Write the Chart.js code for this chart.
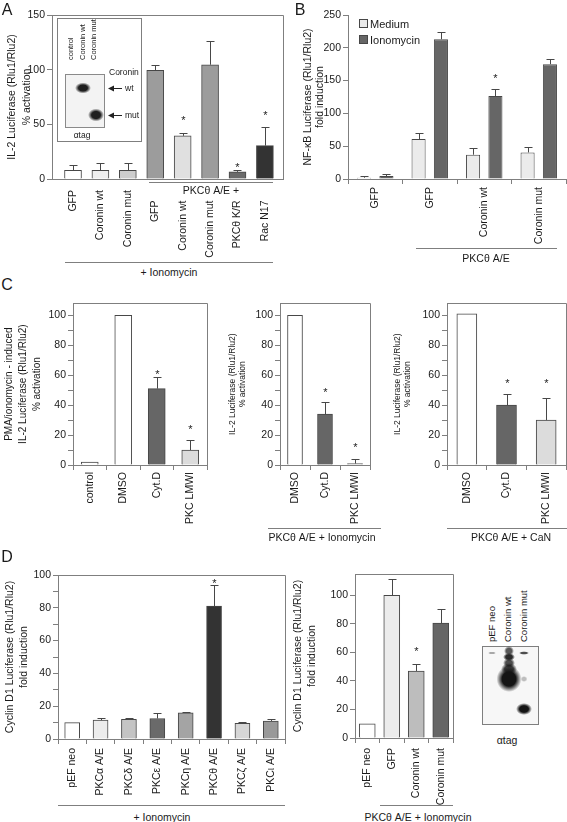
<!DOCTYPE html>
<html>
<head>
<meta charset="utf-8">
<script src="https://cdn.jsdelivr.net/npm/chart.js@4.4.0/dist/chart.umd.min.js"></script>
<style>
  body { margin: 0; background: #fff; }
  #page { position: relative; width: 567px; height: 822px; overflow: hidden; font-family: "Liberation Sans", Arial, sans-serif; color: #1a1a1a; }
  #page canvas { position: absolute; }
  .t { position: absolute; white-space: nowrap; line-height: 1; }
  .rot { position: absolute; white-space: nowrap; line-height: 1; transform-origin: 0 0; transform: rotate(-90deg); }
  .line { position: absolute; height: 0; border-top: 1px solid #7f7f7f; }
  .box { position: absolute; border: 1px solid #7f7f7f; background: #fff; }
</style>
</head>
<body>
<div id="page"></div>
<script>
// ------------------- Data -------------------
// A: IL-2 luciferase, % activation
const labelsA = ["GFP", "Coronin wt", "Coronin mut", "GFP", "Coronin wt", "Coronin mut", "PKCθ K/R", "Rac N17"];
const valuesA = [8, 8, 8, 99.5, 39.5, 104.5, 6.5, 30.5];
const errorsA = [4.5, 6.5, 6.5, 4.5, 2.5, 22, 2, 17.5];
const starsA = [null, null, null, null, 55, null, 12, 59.5];

// B: NF-kB luciferase, fold induction
const labelsB = ["GFP", "GFP", "Coronin wt", "Coronin mut"];
const seriesB = ["Medium", "Ionomycin"];
const mediumB = [2, 61, 37, 40.5];
const mediumErrB = [2, 9, 9.5, 9];
const ionoB = [4.5, 213, 126.5, 175];
const ionoErrB = [3.5, 10.5, 10, 8];
const starsB = [null, null, 157, null];

// C: three inhibitor panels, % activation
const labelsC1 = ["control", "DMSO", "Cyt.D", "PKC LMWI"];
const valuesC1 = [2, 100, 51, 10];
const errorsC1 = [0, 0, 7.5, 7];
const starsC1 = [null, null, 62, 25];

const labelsC2 = ["DMSO", "Cyt.D", "PKC LMWI"];
const valuesC2 = [100, 34, 1];
const errorsC2 = [0, 8, 3];
const starsC2 = [null, 50, 13];

const labelsC3 = ["DMSO", "Cyt.D", "PKC LMWI"];
const valuesC3 = [101, 40, 30];
const errorsC3 = [0, 7.5, 14.5];
const starsC3 = [null, 56, 56];

// D: Cyclin D1 luciferase, fold induction
const labelsD1 = ["pEF neo", "PKCα A/E", "PKCδ A/E", "PKCε A/E", "PKCη A/E", "PKCθ A/E", "PKCζ A/E", "PKCι A/E"];
const valuesD1 = [10, 11.5, 12, 12.5, 16, 81, 9.5, 11];
const errorsD1 = [0, 1.5, 1, 3.5, 0.5, 13, 1, 1];
const starsD1 = [null, null, null, null, null, 96, null, null];

const labelsD2 = ["pEF neo", "GFP", "Coronin wt", "Coronin mut"];
const valuesD2 = [10, 100, 47, 80.5];
const errorsD2 = [0, 11.5, 5, 10];
const starsD2 = [null, null, 62, null];

// ------------------- Styles -------------------
const axisColor = "#7f7f7f";
const edge = "#474747";
const ink = "#1a1a1a";
const colorsA = ["#ffffff", "#efefef", "#cdcdcd", "#9c9c9c", "#e0e0e0", "#9c9c9c", "#6a6a6a", "#333333"];
const colorsB = ["#ebebeb", "#666666"];
const colorsC1 = ["#ffffff", "#ffffff", "#666666", "#dcdcdc"];
const colorsC = ["#ffffff", "#666666", "#dcdcdc"];
const colorsD1 = ["#ffffff", "#ececec", "#c4c4c4", "#6a6a6a", "#a4a4a4", "#333333", "#d6d6d6", "#999999"];
const colorsD2 = ["#ffffff", "#ececec", "#bdbdbd", "#666666"];

Chart.defaults.font.family = '"Liberation Sans", Arial, sans-serif';
Chart.defaults.color = ink;

const page = document.getElementById("page");

// ------------------- Plugins -------------------
const frame = {
  id: "frame",
  afterDatasetsDraw(chart, args, opts) {
    if (!opts.show) return;
    const { ctx, chartArea: a } = chart;
    ctx.save();
    ctx.strokeStyle = axisColor;
    ctx.lineWidth = 1;
    ctx.beginPath();
    ctx.moveTo(a.left, Math.round(a.top) + 0.5);
    ctx.lineTo(Math.round(a.right) + 0.5, Math.round(a.top) + 0.5);
    ctx.lineTo(Math.round(a.right) + 0.5, a.bottom);
    ctx.stroke();
    ctx.restore();
  }
};

// upper error bars and significance stars
const marks = {
  id: "marks",
  afterDatasetsDraw(chart) {
    const ctx = chart.ctx;
    const y = chart.scales.y;
    ctx.save();
    chart.data.datasets.forEach((ds, di) => {
      const meta = chart.getDatasetMeta(di);
      meta.data.forEach((bar, i) => {
        const d = ds.data[i];
        const v = typeof d === "object" ? d.y : d;
        const e = ds.errors ? ds.errors[i] : 0;
        const x = Math.round(bar.x) + 0.5;
        if (e) {
          const yt = Math.round(y.getPixelForValue(v + e)) + 0.5;
          ctx.strokeStyle = edge;
          ctx.lineWidth = 1;
          ctx.beginPath();
          ctx.moveTo(x, bar.y);
          ctx.lineTo(x, yt);
          ctx.moveTo(x - 4, yt);
          ctx.lineTo(x + 4, yt);
          ctx.stroke();
        }
        const s = ds.stars ? ds.stars[i] : null;
        if (s != null) {
          ctx.fillStyle = ink;
          ctx.font = '11px "Liberation Sans", Arial, sans-serif';
          ctx.textAlign = "center";
          ctx.textBaseline = "middle";
          ctx.fillText("*", x, y.getPixelForValue(s) + 2.5);
        }
      });
    });
    ctx.restore();
  }
};

Chart.register(frame, marks);

// ------------------- Helpers -------------------
function makeCanvas(left, top, w, h) {
  const c = document.createElement("canvas");
  c.width = w; c.height = h;
  c.style.left = left + "px"; c.style.top = top + "px";
  c.style.width = w + "px"; c.style.height = h + "px";
  page.appendChild(c);
  return c;
}

function yAxis(max, step, every, width, title, size, lh, gap) {
  return {
    min: 0, max: max,
    afterFit: s => { s.width = width; },
    border: { color: axisColor },
    grid: { drawOnChartArea: false, color: axisColor, tickLength: 5 },
    ticks: {
      stepSize: step, includeBounds: false, padding: 2, font: { size: 10.5 },
      callback: v => (v % every === 0 ? v : "")
    },
    title: { display: true, text: title, font: { size: size, lineHeight: lh + "px" }, padding: { top: gap, bottom: 0 } }
  };
}

function xAxis(height, ticksOn, pad) {
  return {
    afterFit: s => { s.height = height; },
    border: { color: axisColor },
    grid: { drawOnChartArea: false, drawTicks: ticksOn, color: axisColor, tickLength: 5, offset: true },
    ticks: { autoSkip: false, minRotation: 90, maxRotation: 90, padding: pad, font: { size: 10.5 } }
  };
}

function options(x, y, top, right, framed) {
  return {
    responsive: false, devicePixelRatio: 1, animation: false,
    layout: { padding: { left: 0, top: top, right: right, bottom: 0 } },
    plugins: { legend: { display: false }, tooltip: { enabled: false }, frame: { show: framed } },
    scales: { x: x, y: y }
  };
}

function barSet(values, errors, stars, colors, thickness) {
  return { data: values, errors: errors, stars: stars, backgroundColor: colors,
           borderColor: edge, borderWidth: 1, barThickness: thickness };
}

function txt(s, x, cy, size, align) {
  const d = document.createElement("div");
  d.className = "t";
  d.textContent = s;
  d.style.fontSize = size + "px";
  d.style.left = x + "px";
  d.style.top = cy + "px";
  d.style.transform = align === "left" ? "translate(0,-50%)" : "translate(-50%,-50%)";
  page.appendChild(d);
}

function rot(s, cx, bottom, size) {
  const d = document.createElement("div");
  d.className = "rot";
  d.textContent = s;
  d.style.fontSize = size + "px";
  d.style.left = (cx - size / 2) + "px";
  d.style.top = bottom + "px";
  page.appendChild(d);
}

function hline(x1, x2, y) {
  const d = document.createElement("div");
  d.className = "line";
  d.style.left = x1 + "px"; d.style.top = y + "px"; d.style.width = (x2 - x1) + "px";
  page.appendChild(d);
}

function blob(ctx, x, y, rx, ry, alpha) {
  ctx.save();
  ctx.translate(x, y);
  ctx.scale(rx, ry);
  const g = ctx.createRadialGradient(0, 0, 0, 0, 0, 1);
  g.addColorStop(0, "rgba(20,20,20," + alpha + ")");
  g.addColorStop(0.55, "rgba(20,20,20," + alpha + ")");
  g.addColorStop(1, "rgba(20,20,20,0)");
  ctx.fillStyle = g;
  ctx.beginPath();
  ctx.arc(0, 0, 1, 0, Math.PI * 2);
  ctx.fill();
  ctx.restore();
}

function arrow(ctx, x1, x2, y) {
  ctx.beginPath();
  ctx.moveTo(x1, y); ctx.lineTo(x2 + 4, y);
  ctx.stroke();
  ctx.beginPath();
  ctx.moveTo(x2, y); ctx.lineTo(x2 + 6, y - 3); ctx.lineTo(x2 + 6, y + 3);
  ctx.closePath();
  ctx.fill();
}

// ------------------- Panel A -------------------
const xA = xAxis(83, false, 11);
xA.type = "linear";
xA.min = 0.234;
xA.max = 8.66;
xA.offset = false;
xA.grid.offset = false;
xA.afterBuildTicks = s => { s.ticks = labelsA.map((_, i) => ({ value: i + 1 })); };
xA.ticks.callback = v => (v > 3 ? labelsA[v - 1] + "\u2002\u2002" : labelsA[v - 1]);

new Chart(makeCanvas(0, 0, 290, 262), {
  type: "bar",
  data: { datasets: [barSet(valuesA.map((v, i) => ({ x: i + 1, y: v })), errorsA, starsA, colorsA, 17)] },
  options: options(xA, yAxis(150, 50, 50, 52, ["IL-2 Luciferase (Rlu1/Rlu2)", "% activation"], 10.5, 14.5, 5), 15, 7, true)
});

// ------------------- Panel B -------------------
new Chart(makeCanvas(290, 0, 277, 262), {
  type: "bar",
  data: {
    labels: labelsB,
    datasets: [
      Object.assign(barSet(mediumB, mediumErrB, null, colorsB[0]), { label: seriesB[0], barThickness: undefined, categoryPercentage: 0.82, barPercentage: 0.63 }),
      Object.assign(barSet(ionoB, ionoErrB, starsB, colorsB[1]), { label: seriesB[1], barThickness: undefined, categoryPercentage: 0.82, barPercentage: 0.63 })
    ]
  },
  options: options(xAxis(83, true, 3), yAxis(250, 50, 50, 58, ["NF-κB Luciferase (Rlu1/Rlu2)", "fold induction"], 10.5, 12, 12), 15, 1, false)
});

// ------------------- Panel C -------------------
new Chart(makeCanvas(0, 295, 210, 235), {
  type: "bar",
  data: { labels: labelsC1, datasets: [barSet(valuesC1, errorsC1, starsC1, colorsC1, 17)] },
  options: options(xAxis(65, true, 2), yAxis(108, 10, 20, 73, ["PMA/ionomycin - induced", "IL-2 Luciferase (Rlu1/Rlu2)", "% activation"], 10, 14, 2), 8, 3, true)
});

new Chart(makeCanvas(210, 295, 165, 235), {
  type: "bar",
  data: { labels: labelsC2, datasets: [barSet(valuesC2, errorsC2, starsC2, colorsC, 15)] },
  options: options(xAxis(65, true, 2), yAxis(108, 10, 20, 70, ["IL-2 Luciferase (Rlu1/Rlu2)", "% activation"], 8.5, 10, 18), 8, 5, true)
});

new Chart(makeCanvas(375, 295, 192, 235), {
  type: "bar",
  data: { labels: labelsC3, datasets: [barSet(valuesC3, errorsC3, starsC3, colorsC, 20)] },
  options: options(xAxis(65, true, 2), yAxis(108, 10, 20, 72, ["IL-2 Luciferase (Rlu1/Rlu2)", "% activation"], 8.5, 10, 18), 8, 1, true)
});

// ------------------- Panel D -------------------
new Chart(makeCanvas(0, 560, 290, 245), {
  type: "bar",
  data: { labels: labelsD1, datasets: [barSet(valuesD1, errorsD1, starsD1, colorsD1, 15)] },
  options: options(xAxis(66, true, 4), yAxis(100, 10, 20, 58, ["Cyclin D1 Luciferase (Rlu1/Rlu2)", "fold induction"], 10.5, 14, 3), 15, 5, true)
});

new Chart(makeCanvas(290, 560, 170, 245), {
  type: "bar",
  data: { labels: labelsD2, datasets: [barSet(valuesD2, errorsD2, starsD2, colorsD2, 16)] },
  options: options(xAxis(67, true, 5), yAxis(115, 10, 20, 65, ["Cyclin D1 Luciferase (Rlu1/Rlu2)", "fold induction"], 10.5, 14, 1), 14, 7, true)
});

// ------------------- Annotations -------------------
txt("A", 7, 10, 16);
txt("B", 300, 10, 16);
txt("C", 7, 285, 16);
txt("D", 7, 557, 16);

// A brackets
hline(149, 273, 182);
txt("PKCθ A/E +", 211, 190, 10.5);
hline(65, 273, 262);
txt("+ Ionomycin", 169, 272, 10.5);

// A inset: western blot
const inset = document.createElement("div");
inset.className = "box";
inset.style.left = "57px"; inset.style.top = "18px"; inset.style.width = "83px"; inset.style.height = "122px";
page.appendChild(inset);
const ic = makeCanvas(58, 19, 83, 122);
const ix = ic.getContext("2d");
ix.fillStyle = "#f3f3f3";
ix.fillRect(7, 55, 39, 53);
ix.strokeStyle = "#8a8a8a";
ix.strokeRect(7.5, 55.5, 39, 53);
blob(ix, 25, 69, 8, 5.5, 0.95);
blob(ix, 38, 96, 8, 6.5, 0.95);
ix.strokeStyle = "#222";
ix.fillStyle = "#222";
arrow(ix, 64, 50, 69.5);
arrow(ix, 64, 50, 96.5);
rot("control", 71, 60, 7.5);
rot("Coronin wt", 82.5, 60, 7.5);
rot("Coronin mut", 94, 60, 7.5);
txt("Coronin", 109, 72, 8.5, "left");
txt("wt", 125, 88, 8.5, "left");
txt("mut", 125, 115, 8.5, "left");
txt("αtag", 82, 135, 8.5);

// B legend and bracket
seriesB.forEach((name, i) => {
  const b = document.createElement("div");
  b.style.position = "absolute";
  b.style.left = "359px"; b.style.top = (19 + i * 16) + "px";
  b.style.width = "7px"; b.style.height = "7px";
  b.style.border = "1px solid " + edge;
  b.style.background = colorsB[i];
  page.appendChild(b);
  txt(name, 370, 23.5 + i * 16, 11, "left");
});
hline(416, 557, 248);
txt("PKCθ A/E", 486, 258, 10.5);

// C brackets
hline(268, 381, 528);
txt("PKCθ A/E + Ionomycin", 322, 537, 10.5);
hline(447, 567, 528);
txt("PKCθ A/E + CaN", 511, 537, 10.5);

// D brackets
hline(58, 285, 805);
txt("+ Ionomycin", 162, 817, 10.5);
hline(380, 453, 805);
txt("PKCθ A/E + Ionomycin", 418, 817, 10.5);

// D blot
const dc = makeCanvas(482, 646, 57, 79);
const dx = dc.getContext("2d");
dx.fillStyle = "#f7f7f7";
dx.fillRect(0, 0, 57, 79);
dx.strokeStyle = "#7f7f7f";
dx.strokeRect(0.5, 0.5, 56, 78);
blob(dx, 10, 7, 4, 1.5, 0.35);
blob(dx, 42, 7, 5, 1.8, 0.75);
blob(dx, 27, 5, 5, 5, 0.7);
blob(dx, 27, 11, 6, 4, 0.9);
blob(dx, 27, 17, 6, 5, 0.75);
blob(dx, 27, 23, 8, 6, 0.8);
blob(dx, 27, 33, 12.5, 13, 1);
blob(dx, 42, 33, 3.5, 3, 0.25);
blob(dx, 42, 63, 8, 6, 1);
rot("pEF neo", 492, 642, 9.5);
rot("Coronin wt", 508, 642, 9.5);
rot("Coronin mut", 524, 642, 9.5);
txt("αtag", 507, 740, 10.5);
</script>
</body>
</html>
